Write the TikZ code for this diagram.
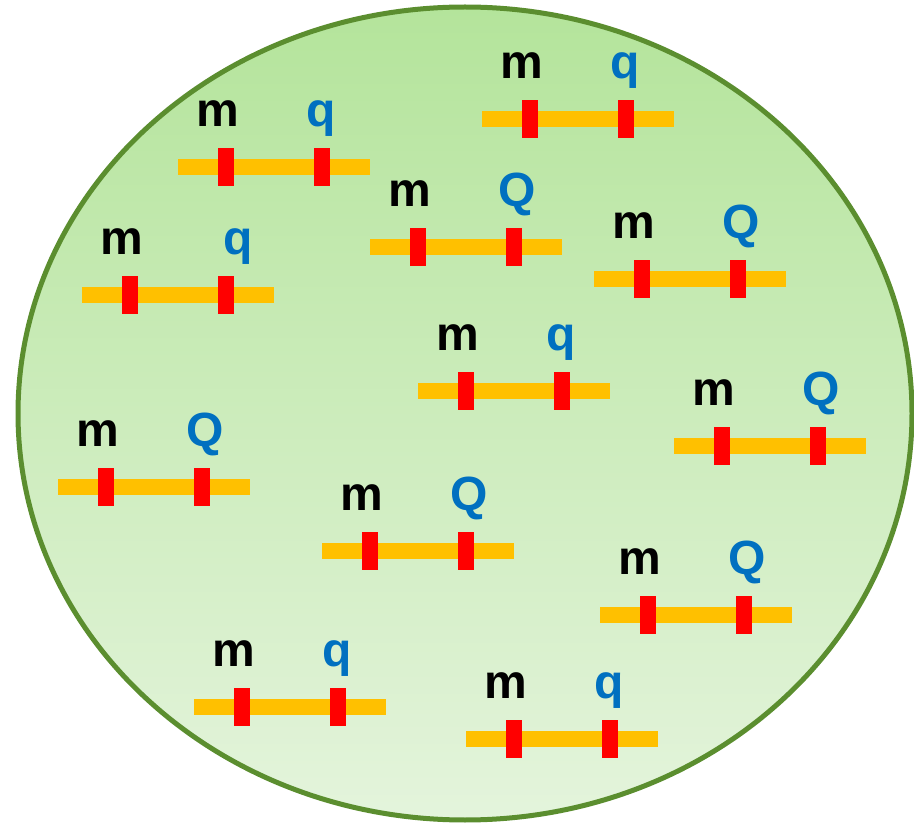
\documentclass[tikz,border=0pt]{standalone}
\usepackage{fontspec}
\setmainfont{Liberation Sans}
\usetikzlibrary{positioning}
\definecolor{rim}{HTML}{5B8E2F}
\definecolor{leaftop}{HTML}{B4E49B}
\definecolor{leafbot}{HTML}{E4F4DC}
\definecolor{arm}{HTML}{FFC000}
\definecolor{locus}{HTML}{FF0000}
\definecolor{qblue}{HTML}{0070C0}

\begin{document}
\begin{tikzpicture}[x=1pt,y=-1pt,bar/.style={fill=arm,inner sep=0pt,minimum width=192pt,minimum height=16pt},cen/.style={fill=locus,inner sep=0pt,minimum width=16pt,minimum height=38pt},lbl/.style={inner sep=0pt,anchor=base,font=\fontsize{48}{48}\selectfont\bfseries}]
 \useasboundingbox (0,0) rectangle (914,826);
 \draw[rim,line width=5pt,top color=leaftop,bottom color=leafbot] (465,413.5) ellipse (447 and 406.5);
 % chromosome pairs: centre x, centre y, second allele, its shift
 \foreach \cx/\cy/\al/\dx [count=\i] in {578/119/q/-1,274/167/q/-1,466/247/Q/3,690/279/Q/3,178/295/q/12,514/391/q/-1,770/446/Q/3,154/487/Q/3,418/551/Q/3,696/615/Q/3,290/707/q/-1,562/739/q/-1}{
  \node[bar] (chr\i) at (\cx,\cy) {};
  \node[cen] (chr\i l) at ([xshift=-48pt]chr\i.center) {};
  \node[cen] (chr\i r) at ([xshift=48pt]chr\i.center) {};
  \node[lbl] (chr\i m) at ([xshift=-8pt,yshift=21pt]chr\i l.north) {m};
  \node[lbl,text=qblue] (chr\i q) at ([xshift=\dx pt,yshift=21pt]chr\i r.north) {\al};
 }
\end{tikzpicture}
\end{document}
